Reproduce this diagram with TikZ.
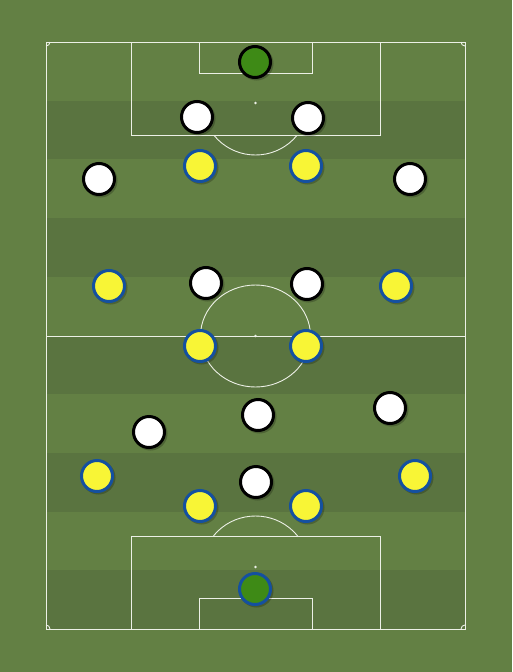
\documentclass[tikz,border=0pt]{standalone}
\usepackage{tikz}
\usetikzlibrary{positioning,calc}
\definecolor{grassA}{RGB}{99,128,68}
\definecolor{grassB}{RGB}{90,116,64}
\definecolor{chalk}{RGB}{236,240,230}
\definecolor{kitY}{RGB}{248,245,54}
\definecolor{kitB}{RGB}{20,80,160}
\definecolor{keeper}{RGB}{62,138,22}
\tikzset{
  pline/.style={chalk,line width=0.9pt},
  player/.style={circle,minimum size=31pt,inner sep=0pt,line width=3pt},
  homep/.style={player,draw=black,fill=white},
  awayp/.style={player,draw=kitB,fill=kitY},
  homegk/.style={player,draw=black,fill=keeper},
  awaygk/.style={player,draw=kitB,fill=keeper},
  shade/.style={circle,minimum size=34pt,inner sep=0pt,fill=black,opacity=0.22}
}
\begin{document}
\begin{tikzpicture}[x=1pt,y=1pt]
\useasboundingbox (0,0) rectangle (512,-672);
\fill [grassA] (0,0) rectangle (512,-672);
% stripes
\foreach \i in {1,3,5,7,9}
  \fill [grassB] (46,{-42-58.7*\i}) rectangle (465,{-42-58.7*(\i+1)});
% pitch lines
\draw [pline] (46,-42) rectangle (465,-629);
\draw [pline] (46,-336) -- (465,-336);
\draw [pline] (255.5,-336) ellipse (55 and 51);
\fill [chalk] (255.5,-336) circle (1.3);
% top end
\draw [pline] (131,-42) rectangle (380,-135);
\draw [pline] (199,-42) rectangle (312,-73);
\fill [chalk] (255.5,-103) circle (1.3);
\begin{scope}
\clip (131,-135) rectangle (380,-200);
\draw [pline] (255.5,-103) ellipse (53 and 52);
\end{scope}
% bottom end
\draw [pline] (131,-536) rectangle (380,-629);
\draw [pline] (199,-598) rectangle (312,-629);
\fill [chalk] (255.5,-567) circle (1.3);
\begin{scope}
\clip (131,-536) rectangle (380,-470);
\draw [pline] (255.5,-567) ellipse (53 and 51);
\end{scope}
% corners
\draw [pline] (46,-46) arc (-90:0:4);
\draw [pline] (461,-42) arc (180:270:4);
\draw [pline] (50,-629) arc (0:90:4);
\draw [pline] (465,-625) arc (90:180:4);
% shadows
\foreach \x/\y in {255/62,197/117,308/118,99/179,410/179,206/283,307/284,149/432,258/415,390/408,256/482,
  200/166,306/166,109/286,396/286,200/346,306/346,97/476,415/476,200/506,306/506,255/589}
  \node [shade] at (\x+1.5,-\y-1.5) {};
% white side
\node [homegk] (wgk) at (255,-62) {};
\node [homep] (w1) at (197,-117) {};
\node [homep] (w2) at (308,-118) {};
\node [homep] (w3) at (99,-179) {};
\node [homep] (w4) at (410,-179) {};
\node [homep] (w5) at (206,-283) {};
\node [homep] (w6) at (307,-284) {};
\node [homep] (w7) at (149,-432) {};
\node [homep] (w8) at (258,-415) {};
\node [homep] (w9) at (390,-408) {};
\node [homep] (w10) at (256,-482) {};
% yellow side
\node [awayp] (y1) at (200,-166) {};
\node [awayp] (y2) at (306,-166) {};
\node [awayp] (y3) at (109,-286) {};
\node [awayp] (y4) at (396,-286) {};
\node [awayp] (y5) at (200,-346) {};
\node [awayp] (y6) at (306,-346) {};
\node [awayp] (y7) at (97,-476) {};
\node [awayp] (y8) at (415,-476) {};
\node [awayp] (y9) at (200,-506) {};
\node [awayp] (y10) at (306,-506) {};
\node [awaygk] (ygk) at (255,-589) {};
\end{tikzpicture}
\end{document}
